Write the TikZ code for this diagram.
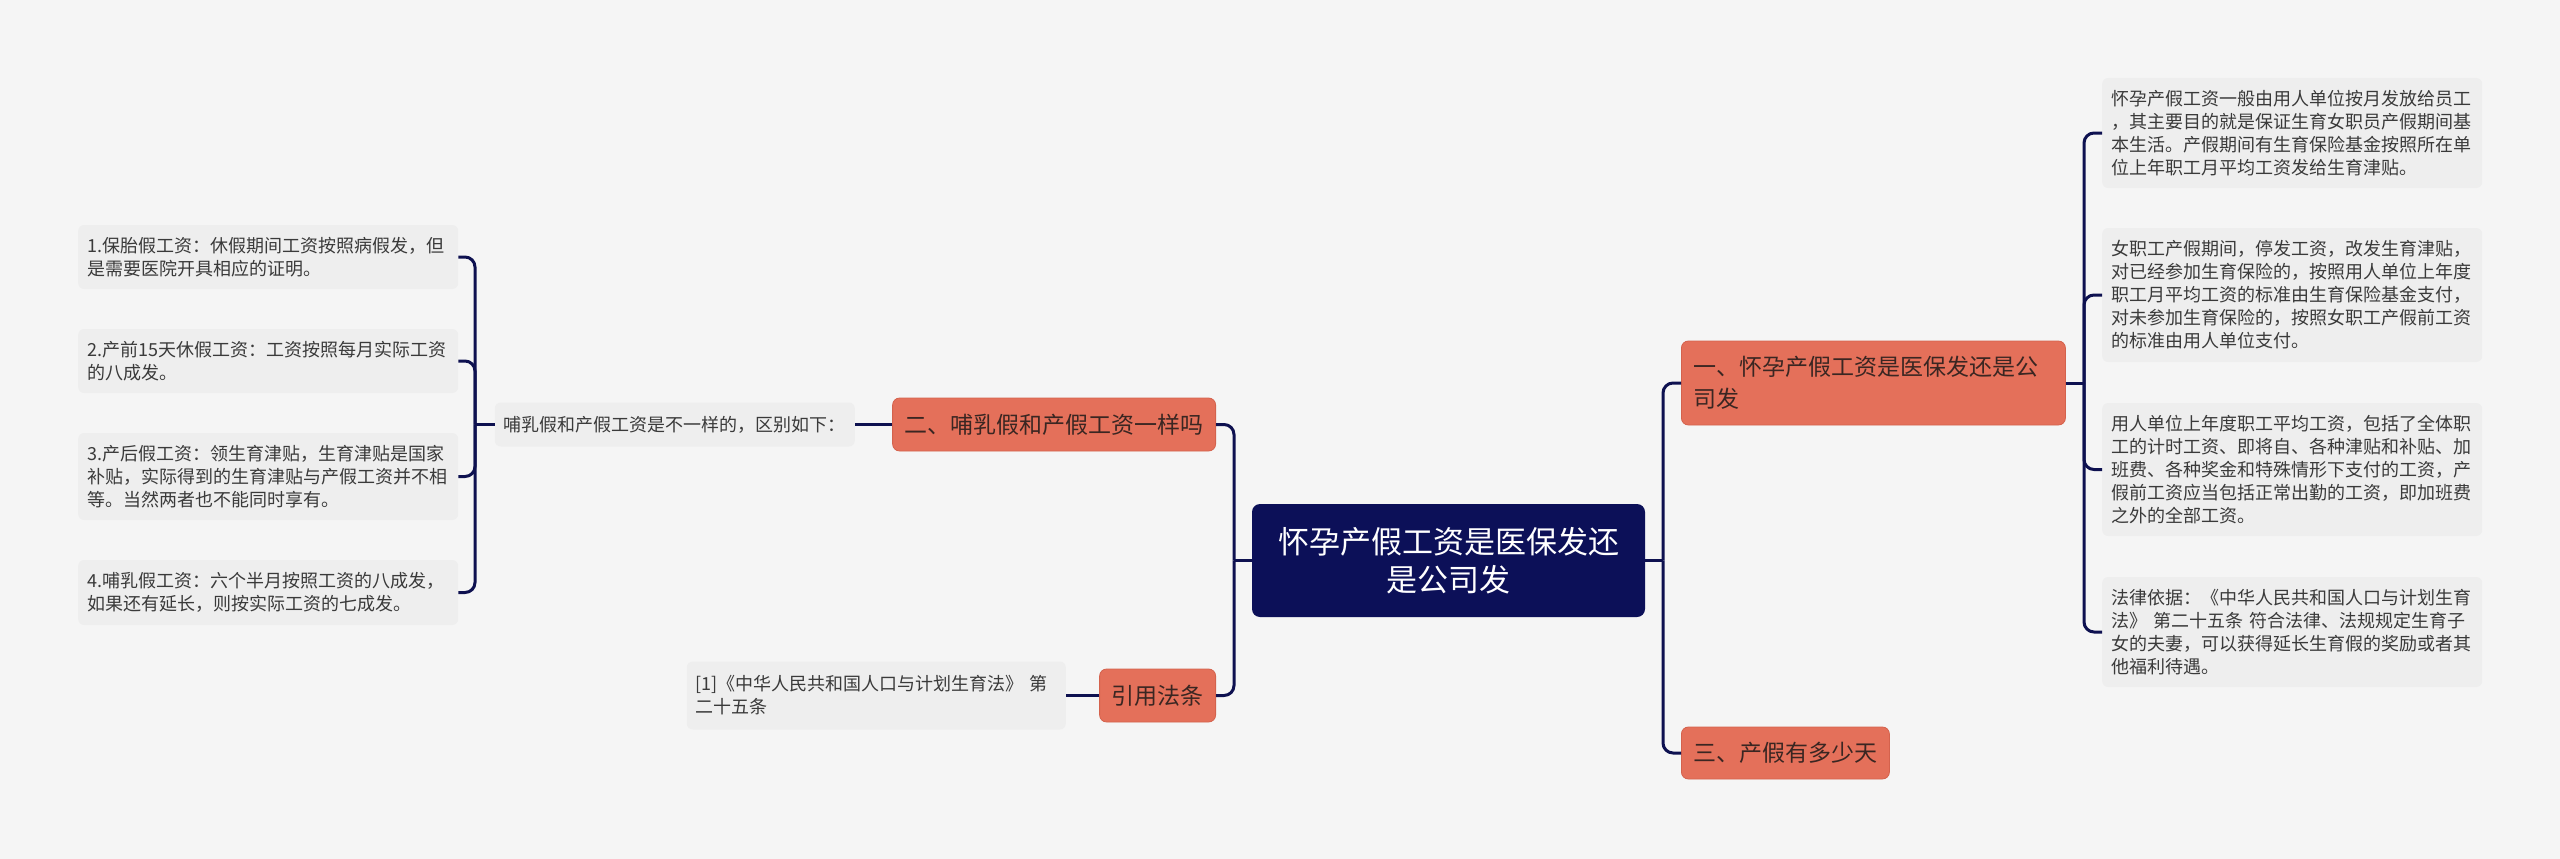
\documentclass[tikz,border=0pt]{standalone}
\usepackage{fontspec}
\setmainfont{Noto Sans CJK SC}
\definecolor{bgc}{HTML}{F5F5F5}
\definecolor{leaffill}{HTML}{EEEEEE}
\definecolor{leaftext}{HTML}{3A3A3A}
\definecolor{orangefill}{HTML}{E4705A}
\definecolor{orangeedge}{HTML}{D4624D}
\definecolor{orangetext}{HTML}{3A2622}
\definecolor{navy}{HTML}{0C1058}
\definecolor{linec}{HTML}{0E1150}
\begin{document}
\begin{tikzpicture}[x=1pt,y=-1pt,
  leaf/.style={rectangle, rounded corners=6pt, fill=leaffill, text=leaftext,
    font=\fontsize{18}{23}\selectfont, inner xsep=9pt, inner ysep=0pt,
    text width=362pt, align=left},
  branch/.style={rectangle, rounded corners=7pt, fill=orangefill, draw=orangeedge,
    line width=0.8pt, text=orangetext, font=\fontsize{23}{32}\selectfont,
    inner xsep=12pt, inner ysep=0pt, align=left},
  rootnode/.style={rectangle, rounded corners=8pt, fill=navy, text=white,
    font=\fontsize{31}{38}\selectfont, inner xsep=10pt, inner ysep=0pt,
    align=center, minimum width=393pt, minimum height=113pt},
  conn/.style={draw=linec, line width=3pt, rounded corners=10pt}
]
\fill[bgc] (0,0) rectangle (2560,859);
\useasboundingbox (0,0) rectangle (2560,859);

% root
\node[rootnode] (C) at (1448.5,560.5) {怀孕产假工资是医保发还\\是公司发};

% right branches
\node[branch, anchor=west, text width=360pt, minimum height=84pt] (n1) at (1681,383)
  {一、怀孕产假工资是医保发还是公\\司发};
\node[branch, anchor=west, minimum height=52pt] (n3) at (1681,753) {三、产假有多少天};

% left branches
\node[branch, anchor=east, minimum height=53pt] (n2) at (1216,424.5) {二、哺乳假和产假工资一样吗};
\node[branch, anchor=east, minimum height=53pt] (ref) at (1216,695.5) {引用法条};

% label under branch two
\node[leaf, anchor=east, text width=342pt, minimum height=44pt] (lbl) at (855,424.5)
  {哺乳假和产假工资是不一样的，区别如下：};

% reference leaf
\node[leaf, anchor=east, text width=361pt, minimum height=68pt] (refleaf) at (1066,695.5)
  {[1]《中华人民共和国人口与计划生育法》 第\\二十五条};

% left leaves
\node[leaf, anchor=west, minimum height=64pt] (L1) at (78,257)
  {1.保胎假工资：休假期间工资按照病假发，但\\是需要医院开具相应的证明。};
\node[leaf, anchor=west, minimum height=64pt] (L2) at (78,361)
  {2.产前15天休假工资：工资按照每月实际工资\\的八成发。};
\node[leaf, anchor=west, minimum height=87pt] (L3) at (78,476.5)
  {3.产后假工资：领生育津贴，生育津贴是国家\\补贴，实际得到的生育津贴与产假工资并不相\\等。当然两者也不能同时享有。};
\node[leaf, anchor=west, minimum height=65pt] (L4) at (78,592.5)
  {4.哺乳假工资：六个半月按照工资的八成发，\\如果还有延长，则按实际工资的七成发。};

% right leaves
\node[leaf, anchor=west, minimum height=110pt] (R1) at (2102,133)
  {怀孕产假工资一般由用人单位按月发放给员工\\，其主要目的就是保证生育女职员产假期间基\\本生活。产假期间有生育保险基金按照所在单\\位上年职工月平均工资发给生育津贴。};
\node[leaf, anchor=west, minimum height=134pt] (R2) at (2102,295)
  {女职工产假期间，停发工资，改发生育津贴，\\对已经参加生育保险的，按照用人单位上年度\\职工月平均工资的标准由生育保险基金支付，\\对未参加生育保险的，按照女职工产假前工资\\的标准由用人单位支付。};
\node[leaf, anchor=west, minimum height=133pt] (R3) at (2102,469.5)
  {用人单位上年度职工平均工资，包括了全体职\\工的计时工资、即将自、各种津贴和补贴、加\\班费、各种奖金和特殊情形下支付的工资，产\\假前工资应当包括正常出勤的工资，即加班费\\之外的全部工资。};
\node[leaf, anchor=west, minimum height=110pt] (R4) at (2102,632)
  {法律依据：《中华人民共和国人口与计划生育\\法》 第二十五条 符合法律、法规规定生育子\\女的夫妻，可以获得延长生育假的奖励或者其\\他福利待遇。};

% junctions
\coordinate (jR) at (1663,560.5);
\coordinate (jL) at (1234,560.5);
\coordinate (jRR) at (2084,383);
\coordinate (jLL) at (475,424.5);

% connectors
\draw[conn] (C.east) -- (jR);
\draw[conn] (jR) |- (n1.west);
\draw[conn] (jR) |- (n3.west);
\draw[conn] (C.west) -- (jL);
\draw[conn] (jL) |- (n2.east);
\draw[conn] (jL) |- (ref.east);
\draw[conn] (n2.west) -- (lbl.east);
\draw[conn] (ref.west) -- (refleaf.east);
\draw[conn] (lbl.west) -- (jLL);
\draw[conn] (jLL) |- (L1.east);
\draw[conn] (jLL) |- (L2.east);
\draw[conn] (jLL) |- (L3.east);
\draw[conn] (jLL) |- (L4.east);
\draw[conn] (n1.east) -- (jRR);
\draw[conn] (jRR) |- (R1.west);
\draw[conn] (jRR) |- (R2.west);
\draw[conn] (jRR) |- (R3.west);
\draw[conn] (jRR) |- (R4.west);
\end{tikzpicture}
\end{document}
